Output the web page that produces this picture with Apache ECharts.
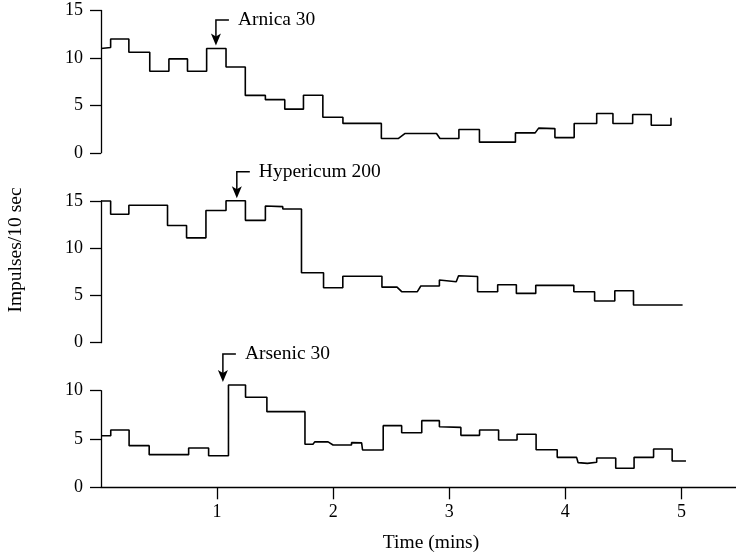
<!DOCTYPE html>
<html>
<head>
<meta charset="utf-8">
<title>Impulses/10 sec</title>
<script src="https://cdn.jsdelivr.net/npm/echarts@6/dist/echarts.min.js"></script>
<style>
  html, body { margin: 0; padding: 0; background: #fff; }
  #main { width: 736px; height: 554px; }
</style>
</head>
<body>
<div id="main"></div>
<script>
// 读图得到的折线拐点: 时间 (mins) / 每10秒脉冲数
const arnicaT = [0, 0.083, 0.083, 0.24, 0.24, 0.42, 0.42, 0.585, 0.585, 0.745, 0.745, 0.91, 0.91, 1.077, 1.077, 1.243, 1.243, 1.416, 1.416, 1.583, 1.583, 1.744, 1.744, 1.911, 1.911, 2.084, 2.084, 2.415, 2.415, 2.56, 2.617, 2.89, 2.92, 3.083, 3.083, 3.26, 3.26, 3.57, 3.57, 3.74, 3.77, 3.91, 3.91, 4.076, 4.076, 4.27, 4.27, 4.41, 4.41, 4.58, 4.58, 4.74, 4.74, 4.91, 4.91]
const arnicaV = [11.0, 11.1, 12.0, 12.0, 10.6, 10.6, 8.6, 8.6, 9.9, 9.9, 8.6, 8.6, 11.0, 11.0, 9.05, 9.05, 6.05, 6.05, 5.6, 5.6, 4.6, 4.6, 6.07, 6.07, 3.75, 3.75, 3.1, 3.1, 1.5, 1.5, 2.03, 2.03, 1.5, 1.5, 2.46, 2.46, 1.12, 1.12, 2.1, 2.1, 2.6, 2.55, 1.6, 1.6, 3.09, 3.09, 4.14, 4.14, 3.09, 3.09, 4.03, 4.03, 2.91, 2.91, 3.69]

const hypericumT = [0, 0.083, 0.083, 0.24, 0.24, 0.573, 0.573, 0.737, 0.737, 0.904, 0.904, 1.077, 1.077, 1.244, 1.244, 1.416, 1.416, 1.566, 1.566, 1.727, 1.727, 1.917, 1.917, 2.083, 2.083, 2.42, 2.42, 2.55, 2.59, 2.725, 2.755, 2.915, 2.915, 3.06, 3.08, 3.244, 3.244, 3.417, 3.417, 3.578, 3.578, 3.745, 3.745, 4.073, 4.073, 4.252, 4.252, 4.426, 4.426, 4.587, 4.587, 5.01]
const hypericumV = [15.0, 15.0, 13.6, 13.6, 14.55, 14.55, 12.4, 12.4, 11.1, 11.1, 14.0, 14.0, 15.03, 15.03, 12.95, 12.95, 14.47, 14.4, 14.15, 14.15, 7.41, 7.41, 5.82, 5.82, 7.03, 7.03, 5.88, 5.88, 5.4, 5.4, 6.0, 6.0, 6.63, 6.46, 7.09, 7.0, 5.4, 5.4, 6.14, 6.14, 5.22, 5.22, 6.07, 6.07, 5.4, 5.4, 4.41, 4.41, 5.5, 5.5, 3.99, 3.99]

const arsenicT = [0, 0.084, 0.084, 0.242, 0.242, 0.415, 0.415, 0.755, 0.755, 0.927, 0.927, 1.098, 1.098, 1.245, 1.245, 1.429, 1.429, 1.757, 1.757, 1.826, 1.841, 1.956, 1.999, 2.158, 2.158, 2.245, 2.253, 2.431, 2.431, 2.59, 2.59, 2.763, 2.763, 2.915, 2.915, 3.1, 3.1, 3.261, 3.261, 3.425, 3.425, 3.584, 3.584, 3.748, 3.748, 3.93, 3.93, 4.097, 4.11, 4.19, 4.27, 4.27, 4.434, 4.434, 4.592, 4.592, 4.76, 4.76, 4.92, 4.92, 5.039]
const arsenicV = [5.34, 5.34, 5.93, 5.93, 4.31, 4.31, 3.38, 3.38, 4.07, 4.07, 3.27, 3.27, 10.59, 10.59, 9.32, 9.32, 7.83, 7.83, 4.45, 4.45, 4.7, 4.7, 4.38, 4.38, 4.62, 4.6, 3.86, 3.86, 6.38, 6.38, 5.65, 5.65, 6.9, 6.9, 6.27, 6.2, 5.38, 5.38, 5.93, 5.93, 4.9, 4.9, 5.49, 5.49, 3.89, 3.89, 3.1, 3.1, 2.55, 2.48, 2.59, 3.03, 3.03, 1.97, 1.97, 3.1, 3.1, 3.96, 3.96, 2.72, 2.72]

// 箭头标注 (给药时刻)
const annNames = ['Arnica 30', 'Hypericum 200', 'Arsenic 30']
const annT = [0.99, 1.17, 1.05]
const annTop = [14.0, 18.1, 13.8]
const annTip = [11.3, 15.3, 10.9]

const xTicks = [1, 2, 3, 4, 5]
const yMax = [15, 15, 10]

const font = 'Liberation Serif, Times New Roman, serif'
const zip = (ts, vs) => ts.map((t, i) => [t, vs[i]])
const traces = [zip(arnicaT, arnicaV), zip(hypericumT, hypericumV), zip(arsenicT, arsenicV)]

const grids = [
  { left: 101, right: 0, top: 10.5, height: 142.3 },
  { left: 101, right: 0, top: 201, height: 141.7 },
  { left: 101, right: 0, top: 390.7, height: 96.6 }
]

const chart = echarts.init(document.getElementById('main'))

const option = {
  animation: false,
  backgroundColor: '#fff',
  grid: grids,
  xAxis: [0, 1, 2].map((i) => ({
    type: 'value',
    gridIndex: i,
    min: 0,
    max: 5.47,
    interval: 1,
    show: i === 2,
    axisLine: { show: true, lineStyle: { color: '#000', width: 1.3 } },
    axisTick: { show: true, length: 12, customValues: xTicks, lineStyle: { color: '#000', width: 1.3 } },
    axisLabel: {
      customValues: xTicks,
      margin: 16,
      color: '#000',
      fontSize: 18,
      fontFamily: font,
      formatter: (v) => (v === 0 ? '' : String(v))
    },
    splitLine: { show: false }
  })),
  yAxis: [0, 1, 2].map((i) => ({
    type: 'value',
    gridIndex: i,
    min: 0,
    max: yMax[i],
    interval: 5,
    axisLine: { show: true, onZero: false, lineStyle: { color: '#000', width: 1.3 } },
    axisTick: { show: true, length: 11, lineStyle: { color: '#000', width: 1.3 } },
    axisLabel: { margin: 18, color: '#000', fontSize: 18, fontFamily: font },
    splitLine: { show: false }
  })),
  series: traces.map((d, i) => ({
    type: 'line',
    xAxisIndex: i,
    yAxisIndex: i,
    data: d,
    showSymbol: false,
    clip: false,
    lineStyle: { color: '#000', width: 1.6 }
  }))
}
chart.setOption(option)

// 标注: 用坐标轴换算位置
const graphics = []
annNames.forEach((name, i) => {
  const top = chart.convertToPixel({ gridIndex: i }, [annT[i], annTop[i]])
  const tip = chart.convertToPixel({ gridIndex: i }, [annT[i], annTip[i]])
  graphics.push({
    type: 'polyline',
    shape: { points: [[top[0] + 13, top[1]], [top[0], top[1]], [tip[0], tip[1] - 8]] },
    style: { stroke: '#000', lineWidth: 1.5, fill: null }
  })
  graphics.push({
    type: 'polygon',
    shape: { points: [[tip[0], tip[1]], [tip[0] - 5, tip[1] - 12], [tip[0], tip[1] - 9], [tip[0] + 5, tip[1] - 12]] },
    style: { fill: '#000' }
  })
  graphics.push({
    type: 'text',
    x: top[0] + 22,
    y: top[1],
    style: { text: name, fill: '#000', font: '19.5px ' + font, textAlign: 'left', textVerticalAlign: 'middle' }
  })
})

// 坐标轴标题
graphics.push({
  type: 'text',
  x: 16,
  y: 250,
  rotation: Math.PI / 2,
  style: { text: 'Impulses/10 sec', fill: '#000', font: '19.5px ' + font, textAlign: 'center', textVerticalAlign: 'middle' }
})
graphics.push({
  type: 'text',
  x: 431,
  y: 543,
  style: { text: 'Time (mins)', fill: '#000', font: '19.5px ' + font, textAlign: 'center', textVerticalAlign: 'middle' }
})

chart.setOption({ graphic: graphics })
</script>
</body>
</html>
